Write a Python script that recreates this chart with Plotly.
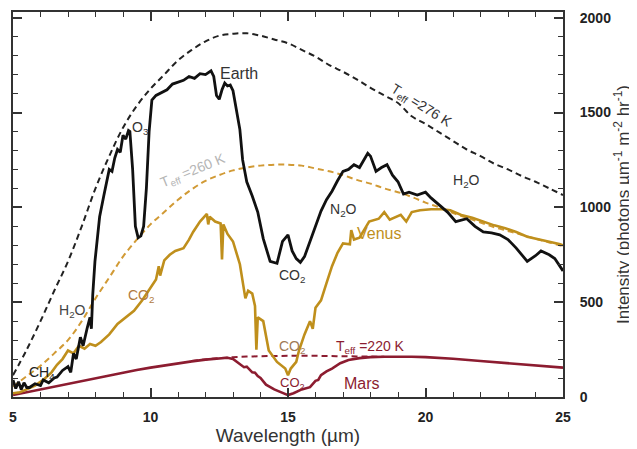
import plotly.graph_objects as go

# ---------------- data ----------------
bb276_x = [5, 5.5, 6, 6.5, 7, 7.5, 8, 8.5, 9, 9.5, 10, 10.5, 11, 11.5, 12, 12.5, 13, 13.5, 14, 14.5,
           15, 15.5, 16, 16.5, 17, 17.5, 18, 18.5, 19, 19.5, 20, 20.5, 21, 21.5, 22, 22.5, 23, 23.5, 24, 24.5, 25]
bb276_y = [115, 250, 400, 560, 715, 900, 1100, 1270, 1420, 1535, 1625, 1700, 1775, 1830, 1875, 1905, 1915, 1918, 1905, 1885,
           1865, 1830, 1795, 1750, 1715, 1675, 1630, 1590, 1550, 1480, 1440, 1395, 1350, 1305, 1270, 1230, 1200, 1165, 1135, 1100, 1065]

bb260_x = bb276_x
bb260_y = [55, 110, 165, 230, 300, 400, 520, 630, 740, 830, 910, 975, 1040, 1095, 1140, 1170, 1195, 1210, 1220, 1225,
           1225, 1220, 1205, 1190, 1170, 1145, 1125, 1100, 1080, 1055, 1025, 1000, 970, 945, 920, 895, 875, 855, 835, 815, 795]

bb220_x = [11.5, 12, 12.5, 13, 13.5, 14, 14.5, 15, 15.5, 16, 16.5, 17, 17.5, 18, 18.5]
bb220_y = [190, 198, 205, 210, 213, 215, 216, 217, 217, 217, 216, 215, 214, 213, 212]

earth_x = [5.0, 5.1, 5.2, 5.3, 5.4, 5.5, 5.6, 5.8, 6.0, 6.1, 6.3, 6.5, 6.6, 6.8, 7.0, 7.1, 7.2, 7.3, 7.45, 7.55,
           7.7, 7.8, 7.85, 7.9, 7.98, 8.05, 8.15, 8.3, 8.4, 8.5, 8.6, 8.7, 8.8, 8.9, 9.0, 9.1, 9.2, 9.25, 9.35, 9.45,
           9.55, 9.65, 9.75, 9.85, 9.95, 10.05, 10.2, 10.4, 10.6, 10.8, 11.0, 11.2, 11.4, 11.6, 11.8, 12.0, 12.2, 12.3, 12.4, 12.5,
           12.6, 12.7, 12.8, 12.9, 13.0, 13.1, 13.25, 13.35, 13.5, 13.7, 13.9, 14.1, 14.35, 14.6, 14.7, 14.8, 15.0, 15.15, 15.3, 15.45,
           15.6, 15.8, 16.0, 16.2, 16.4, 16.6, 16.8, 17.0, 17.2, 17.4, 17.6, 17.8, 17.9, 18.0, 18.2, 18.4, 18.6, 18.8, 19.0, 19.2,
           19.4, 19.7, 20.0, 20.2, 20.5, 20.8, 21.1, 21.5, 21.8, 22.1, 22.4, 22.7, 23.0, 23.3, 23.7, 24.0, 24.2, 24.5, 24.7, 25.0]
earth_y = [90, 45, 80, 40, 75, 50, 50, 70, 60, 90, 75, 100, 105, 140, 160, 130, 230, 200, 315, 270,
           365, 420, 360, 540, 715, 820, 950, 1060, 1130, 1200, 1190, 1260, 1305, 1290, 1380, 1360, 1405, 1400, 1200, 900,
           840, 850, 900, 1100, 1400, 1565, 1590, 1605, 1620, 1650, 1660, 1670, 1690, 1680, 1705, 1700, 1720, 1690, 1590, 1570,
           1620, 1655, 1640, 1645, 1615, 1535, 1410, 1250, 1135, 1060, 975, 835, 715, 705, 760, 820, 855, 770, 730, 710,
           740, 820, 900, 980, 1040, 1085, 1140, 1190, 1200, 1225, 1210, 1260, 1285, 1270, 1190, 1210, 1225, 1170, 1135, 1070,
           1080, 1065, 1080, 1050, 1015, 975, 925, 940, 900, 870, 865, 855, 830, 785, 715, 745, 770, 750, 730, 665]

venus_x = [5.0, 5.25, 5.5, 5.8, 6.1, 6.4, 6.6, 6.8, 7.0, 7.2, 7.4, 7.6, 7.8, 8.0, 8.2, 8.5, 8.8, 9.1, 9.4, 9.7,
           10.0, 10.2, 10.3, 10.35, 10.5, 10.7, 10.9, 11.2, 11.4, 11.55, 11.8, 12.05, 12.1, 12.15, 12.35, 12.55, 12.6, 12.65, 12.8, 13.0,
           13.25, 13.45, 13.55, 13.7, 13.8, 13.85, 13.9, 14.1, 14.3, 14.6, 14.9, 15.0, 15.1, 15.3, 15.4, 15.6, 15.8, 15.9, 16.0, 16.2,
           16.4, 16.6, 16.8, 17.0, 17.25, 17.3, 17.4, 17.6, 17.95, 18.3, 18.5, 18.7, 19.1, 19.3, 19.5, 19.8, 20.2, 20.6, 20.9, 21.3,
           21.7, 22.1, 22.5, 22.9, 23.3, 23.7, 24.2, 24.5, 24.9, 25.0]
venus_y = [20, 25, 40, 60, 90, 130, 170, 200, 245, 230, 270, 255, 280, 270, 290, 330, 385, 420, 455, 510,
           575, 620, 690, 640, 720, 750, 770, 785, 830, 870, 925, 965, 910, 950, 925, 915, 725, 910, 860, 820,
           700, 520, 560, 545, 480, 250, 420, 400, 245, 185, 150, 115, 150, 185, 245, 330, 400, 360, 470, 510,
           600, 690, 760, 810, 805, 880, 830, 840, 925, 940, 975, 935, 960, 925, 975, 985, 990, 990, 985, 960,
           945, 925, 905, 890, 870, 845, 830, 820, 805, 800]

mars_x = [5, 5.5, 6, 6.5, 7, 7.5, 8, 8.5, 9, 9.5, 10, 10.5, 11, 11.5, 12, 12.5, 12.8, 13.0, 13.2, 13.4,
          13.5, 13.6, 13.7, 13.8, 13.9, 14.0, 14.2, 14.5, 14.8, 15.0, 15.2, 15.5, 15.8, 16.0, 16.1, 16.2, 16.4, 16.6, 16.9, 17.2,
          17.6, 18, 18.5, 19, 19.5, 20, 21, 22, 23, 24, 25]
mars_y = [10, 25, 40, 55, 70, 85, 100, 115, 130, 142, 155, 167, 178, 188, 197, 205, 207, 200, 180, 157,
          160, 145, 130, 128, 110, 100, 65, 40, 20, 10, 20, 40, 52, 85, 90, 115, 135, 150, 178, 195,
          205, 210, 212, 213, 212, 210, 202, 190, 177, 165, 155]

x_ticks = [5, 10, 15, 20, 25]
y_ticks = [0, 500, 1000, 1500, 2000]

# ---------------- figure ----------------
BLACK = "#111111"
GOLD = "#bf8f1c"
GOLD_D = "#d19a35"
MAROON = "#8c1c30"
DASH = "6px,4px"

fig = go.Figure()
fig.add_trace(go.Scatter(x=bb276_x, y=bb276_y, mode="lines", line=dict(color="#222", width=2, dash=DASH, shape="spline"), hoverinfo="skip"))
fig.add_trace(go.Scatter(x=bb260_x, y=bb260_y, mode="lines", line=dict(color=GOLD_D, width=2, dash=DASH, shape="spline"), hoverinfo="skip"))
fig.add_trace(go.Scatter(x=mars_x, y=mars_y, mode="lines", line=dict(color=MAROON, width=2.6), hoverinfo="skip"))
fig.add_trace(go.Scatter(x=bb220_x, y=bb220_y, mode="lines", line=dict(color=MAROON, width=2, dash=DASH, shape="spline"), hoverinfo="skip"))
fig.add_trace(go.Scatter(x=venus_x, y=venus_y, mode="lines", line=dict(color=GOLD, width=2.6), hoverinfo="skip"))
fig.add_trace(go.Scatter(x=earth_x, y=earth_y, mode="lines", line=dict(color=BLACK, width=2.8), hoverinfo="skip"))

F = "Liberation Sans, Arial, sans-serif"

def lab(x, y, text, color, size=13, angle=0):
    fig.add_annotation(x=x, y=y, text=text, showarrow=False, textangle=angle,
                       font=dict(family=F, size=size, color=color))

lab(13.2, 1705, "Earth", "#333", 16)
lab(9.65, 1420, "O<sub>3</sub>", "#333", 14)
lab(7.15, 455, "H<sub>2</sub>O", "#444", 14)
lab(6.05, 125, "CH<sub>4</sub>", "#222", 14)
lab(9.65, 535, "CO<sub>2</sub>", "#b07a40", 14)
lab(11.55, 1190, "T<sub>eff</sub> =260 K", "#b5b5b5", 14, -22)
lab(19.85, 1535, "T<sub>eff</sub> =276 K", "#333", 14, 32)
lab(17.0, 985, "N<sub>2</sub>O", "#333", 14)
lab(15.15, 640, "CO<sub>2</sub>", "#333", 14)
lab(21.5, 1140, "H<sub>2</sub>O", "#333", 14)
lab(18.3, 860, "Venus", GOLD, 16)
lab(15.15, 265, "CO<sub>2</sub>", "#a07a55", 14)
lab(18.0, 265, "T<sub>eff</sub> =220 K", MAROON, 14)
lab(15.15, 70, "CO<sub>2</sub>", MAROON, 13)
lab(17.7, 70, "Mars", MAROON, 16)

tickfont = dict(family=F, size=14, color="#222", weight="bold")
fig.update_xaxes(range=[5, 25], tickvals=x_ticks, ticktext=[str(v) for v in x_ticks],
                 ticks="inside", ticklen=9, tickwidth=1.6, tickcolor="#333",
                 minor=dict(dtick=1, ticks="inside", ticklen=5, tickwidth=1.4, tickcolor="#333"),
                 showline=True, linecolor="#333", linewidth=2, mirror="ticks", showgrid=False, zeroline=False,
                 tickfont=tickfont, ticklabelstandoff=6, ticklabeloverflow="allow",
                 title=dict(text="Wavelength (µm)", font=dict(family=F, size=19, color="#333"), standoff=4))
fig.update_yaxes(range=[0, 2030], side="right", tickvals=y_ticks, ticktext=[str(v) for v in y_ticks],
                 ticks="inside", ticklen=9, tickwidth=1.6, tickcolor="#333",
                 minor=dict(dtick=100, ticks="inside", ticklen=5, tickwidth=1.4, tickcolor="#333"),
                 showline=True, linecolor="#333", linewidth=2, mirror="ticks", showgrid=False, zeroline=False,
                 tickfont=tickfont, ticklabelstandoff=12, ticklabeloverflow="allow",
                 title=dict(text="Intensity (photons µm<sup>-1</sup> m<sup>-2</sup> hr<sup>-1</sup>)",
                            font=dict(family=F, size=17, color="#333"), standoff=4))
fig.update_layout(width=629, height=441, margin=dict(l=5, r=74, t=4, b=52, autoexpand=False),
                  plot_bgcolor="white", paper_bgcolor="white", showlegend=False)
fig.write_html("out.html")
